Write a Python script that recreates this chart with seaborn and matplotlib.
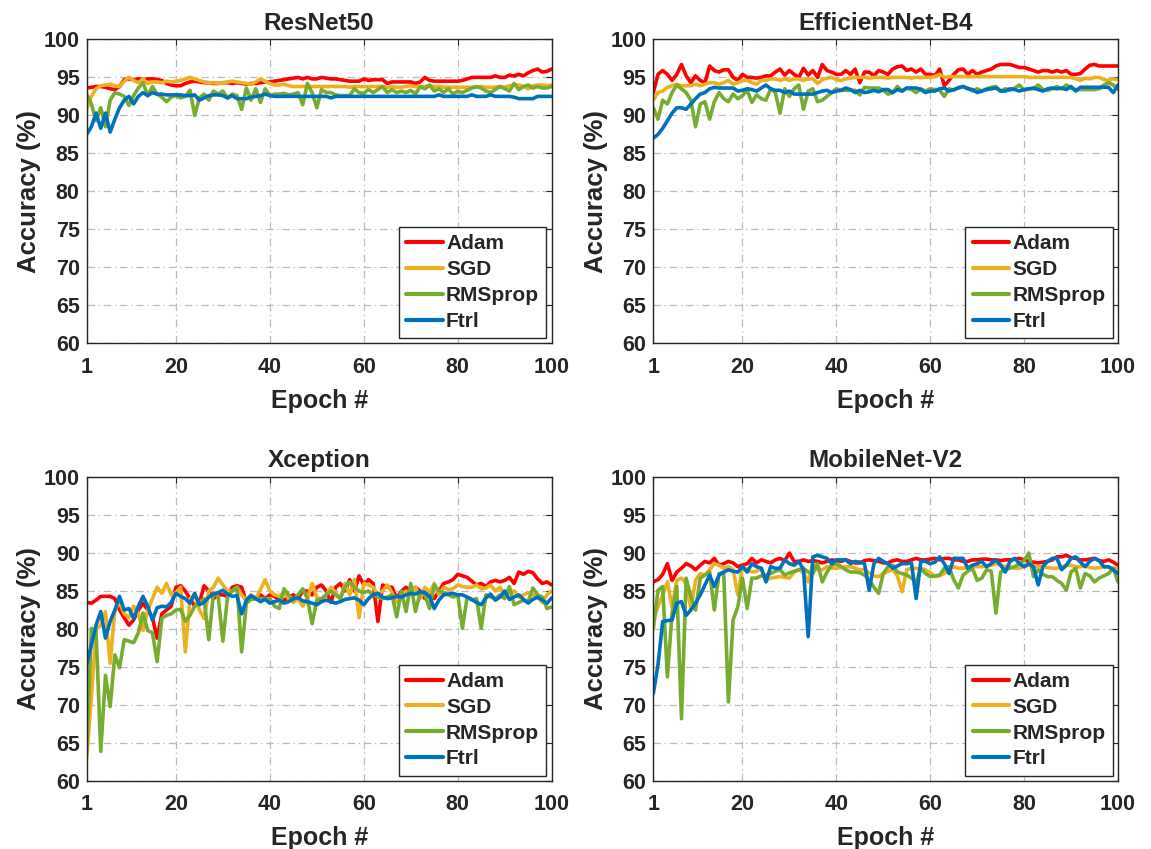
import numpy as np
import pandas as pd
import matplotlib
matplotlib.use("Agg")
import matplotlib.pyplot as plt
import seaborn as sns

epochs = list(range(1, 101))
optimizers = ["Adam", "SGD", "RMSprop", "Ftrl"]
colors = ["#FF0000", "#EDB120", "#77AC30", "#0072BD"]
titles = ["ResNet50", "EfficientNet-B4", "Xception", "MobileNet-V2"]
x_ticks = [1, 20, 40, 60, 80, 100]
y_ticks = [60, 65, 70, 75, 80, 85, 90, 95, 100]

# ---------------- ResNet50 ----------------
resnet_adam = [93.6, 93.7, 93.8, 93.8, 93.7, 93.5, 93.4, 93.8,
               94.7, 94.8, 94.7, 94.8, 94.7, 94.8, 94.8, 94.7, 94.6,
               94.2, 94.0, 93.9, 93.9,
               94.2, 94.4, 94.5, 94.4, 94.3, 94.3, 94.2, 94.2, 94.3, 94.3, 94.2, 94.3, 94.2, 94.1, 94.2, 94.2, 94.3, 94.4, 94.4,
               94.5, 94.6, 94.7, 94.8, 94.9, 95.0, 94.8, 95.0, 94.8, 94.8, 95.0, 94.9, 94.8, 94.8, 94.7,
               94.6, 94.5, 94.5, 94.5, 94.8, 94.6, 94.7, 94.7, 94.7, 94.2,
               94.4, 94.4, 94.4, 94.4, 94.4, 94.2, 94.4, 95.0, 94.6, 94.5, 94.5, 94.5, 94.5, 94.5,
               94.5, 94.6, 94.8, 95.0,
               95.0, 95.0, 95.0, 95.0, 95.2, 95.0, 95.0,
               95.3, 95.2, 95.4, 95.2, 95.6, 95.9, 96.1, 95.7, 95.8, 96.1]
resnet_sgd = [90.8, 92.5, 93.5, 93.9, 94.0, 94.1, 93.9, 93.8, 94.5, 95.0,
              94.6, 94.3, 94.8, 94.2, 94.4, 94.4, 94.3, 94.5, 94.4, 94.5,
              94.6, 94.8, 95.0, 94.8, 94.6, 94.4, 94.3, 94.3, 94.2, 94.3,
              94.4, 94.5, 94.4, 94.3, 94.2, 94.1, 94.4, 94.8, 94.5, 94.2,
              94.0, 94.0, 94.1, 93.9, 93.8, 93.8, 93.8, 93.8, 93.8, 93.8,
              93.8, 93.8, 93.8, 93.8, 93.8, 93.8, 93.7, 93.8, 93.8, 93.8,
              93.8, 93.8, 93.8, 93.8, 93.7, 93.8, 93.7, 93.7, 93.8, 93.9,
              93.8, 93.8, 93.8, 93.9, 93.8, 93.8, 93.7, 93.7, 93.7, 93.7,
              93.7, 93.7, 93.7, 93.7, 93.8, 93.7, 93.7, 93.7, 93.8, 93.7,
              93.9, 94.0, 94.0, 93.8, 93.5, 93.9, 94.0, 94.0, 93.9, 94.0]
resnet_rms = [92.8, 91.5, 89.3, 91.0, 88.5, 92.0, 93.0, 92.8, 92.5, 91.3,
              92.6, 93.6, 94.3, 92.6, 93.8, 92.8, 92.4, 91.8, 92.4, 92.6,
              92.3, 92.5, 93.3, 90.0, 92.3, 92.8, 92.0, 93.2, 92.8, 93.2,
              92.3, 92.8, 92.6, 90.8, 93.6, 92.0, 93.5, 91.7, 93.5, 92.6,
              92.8, 92.8, 92.9, 92.7, 92.8, 93.0, 91.4, 94.2, 93.0, 91.0,
              93.4, 93.0, 93.0, 92.7, 92.6, 92.6, 92.6, 93.5, 93.0, 92.9,
              93.4, 93.0, 93.4, 93.8, 93.0, 93.4, 93.0, 93.2, 93.0, 93.3,
              92.8, 93.8, 93.5, 94.0, 93.2, 93.5, 93.0, 93.5, 92.8, 93.2,
              93.0, 93.3, 93.6, 93.8, 93.6, 93.2, 93.0, 93.4, 93.8, 93.5,
              93.2, 94.2, 93.4, 93.8, 94.0, 93.6, 93.8, 93.6, 93.6, 93.8]
resnet_ftrl = [87.5, 88.5, 90.3, 88.3, 90.3, 87.8, 89.5, 91.0, 92.0, 92.5, 91.5, 92.5, 93.0, 92.6, 93.0,
               92.8, 92.8, 92.7, 92.7, 92.7, 92.7, 92.6, 92.6, 92.7, 92.0, 92.3, 92.6, 92.7, 92.7, 92.6,
               92.3, 92.6, 92.2, 92.2, 92.2, 92.4, 92.5, 92.6, 92.8, 92.6, 92.5, 92.5, 92.5, 92.5, 92.5,
               92.5, 92.5, 92.5, 92.5, 92.5, 92.5, 92.5, 92.3, 92.5, 92.5, 92.5, 92.5, 92.5, 92.5, 92.5,
               92.5, 92.5, 92.5, 92.5, 92.5, 92.5, 92.5, 92.5, 92.5, 92.5, 92.5, 92.5, 92.5, 92.5, 92.5,
               92.7, 92.5, 92.5, 92.5, 92.5, 92.5, 92.5, 92.7, 92.5, 92.5, 92.5, 92.7, 92.5, 92.5, 92.5,
               92.5, 92.4, 92.2, 92.2, 92.2, 92.2, 92.5, 92.5, 92.5, 92.5]

# ---------------- EfficientNet-B4 ----------------
effnet_adam = [93.0, 95.4, 95.9, 95.4, 94.6, 95.4, 96.7, 95.2, 94.3, 95.2,
               94.6, 94.3, 96.5, 95.9, 95.7, 96.0, 96.0, 95.0, 94.6, 95.4,
               95.0, 95.0, 94.9, 95.0, 95.2, 95.2, 95.7, 96.1, 95.3, 95.9,
               95.4, 95.0, 96.2, 95.3, 95.9, 95.0, 96.7, 95.9, 95.7, 95.4,
               95.4, 95.9, 95.4, 96.1, 94.3, 95.7, 95.7, 95.2, 95.9, 95.7,
               95.4, 96.1, 96.4, 96.5, 95.9, 96.1, 95.7, 96.1, 95.4, 95.4,
               95.2, 96.1, 93.9, 94.6, 95.4, 96.0, 96.1, 95.4, 95.9, 95.4,
               95.7, 95.9, 96.1, 96.5, 96.7, 96.7, 96.7, 96.5, 96.3, 96.3,
               96.1, 95.9, 95.7, 95.9, 95.9, 95.7, 95.9, 95.7, 95.9, 95.4,
               95.4, 95.5, 96.1, 96.6, 96.7, 96.5, 96.5, 96.5, 96.5, 96.5]
effnet_sgd = [92.0, 93.0, 93.2, 93.7, 93.9, 94.1, 93.9, 93.9, 93.9, 94.1,
              93.9, 94.1, 94.3, 94.3, 94.1, 94.3, 94.6, 94.1, 94.3, 94.6,
              94.6, 94.3, 94.1, 94.6, 94.6, 94.8, 94.8, 94.6, 94.8, 94.6,
              94.8, 94.8, 94.6, 94.8, 94.8, 94.2, 94.7, 94.9, 95.0, 94.7,
              94.6, 94.8, 94.9, 95.0, 95.0, 95.0, 94.9, 95.0, 95.0, 95.0,
              94.9, 95.0, 95.0, 95.0, 95.0, 94.9, 95.0, 95.0, 95.0, 95.0,
              95.1, 95.4, 95.0, 95.1, 95.1, 95.1, 95.1, 95.1, 95.1, 95.1,
              95.1, 95.1, 95.1, 95.1, 95.1, 95.1, 95.1, 95.1, 95.1, 95.1,
              95.0, 95.0, 95.0, 95.0, 95.0, 95.0, 95.0, 95.0, 95.0, 95.0,
              94.8, 94.6, 94.9, 94.8, 95.0, 95.0, 94.7, 94.6, 94.8, 94.7]
effnet_rms = [91.0, 89.5, 92.0, 91.5, 93.0, 94.0, 93.5, 93.0, 92.0, 88.5,
              91.5, 91.8, 89.5, 91.8, 93.0, 92.2, 91.8, 92.8, 92.2, 92.6,
              93.3, 91.7, 92.7, 92.2, 92.0, 93.5, 93.0, 90.3, 93.5, 92.5,
              93.5, 94.0, 90.8, 93.2, 93.5, 91.8, 92.0, 92.5, 93.0, 93.5,
              93.3, 93.3, 93.3, 93.3, 92.7, 93.7, 93.6, 93.6, 93.6, 93.3,
              92.8, 93.0, 93.8, 93.2, 93.6, 93.4, 93.0, 93.5, 93.2, 93.5,
              93.4, 93.3, 92.5, 93.5, 93.3, 93.7, 93.8, 93.6, 93.2, 93.5,
              93.2, 93.5, 93.7, 93.8, 93.2, 93.5, 93.3, 93.6, 94.0, 93.3,
              93.5, 93.5, 94.0, 93.4, 93.3, 93.5, 93.8, 93.5, 94.0, 93.6,
              93.4, 93.4, 93.4, 93.4, 93.4, 93.5, 94.0, 94.3, 94.0, 93.4]
effnet_ftrl = [87.0, 87.5, 88.3, 89.3, 90.3, 91.0, 91.0, 90.8, 91.5, 92.2,
               92.8, 93.0, 93.5, 93.7, 93.6, 93.6, 93.6, 93.6, 93.2, 93.3,
               93.5, 93.4, 93.2, 93.6, 94.0, 93.5, 93.3, 93.3, 93.0, 93.2,
               92.8, 92.8, 92.8, 92.8, 92.8, 93.0, 93.2, 93.3, 93.0, 93.2,
               93.3, 93.6, 93.4, 93.0, 93.3, 93.0, 93.1, 93.3, 93.1, 93.4,
               93.4, 93.0, 93.4, 93.2, 93.6, 93.6, 93.6, 93.4, 93.0, 93.2,
               93.2, 93.5, 93.6, 93.2, 93.4, 93.6, 93.8, 93.5, 93.4, 93.0,
               93.2, 93.4, 93.5, 93.6, 93.2, 93.2, 93.5, 93.4, 93.2, 93.4,
               93.5, 93.6, 93.4, 93.2, 93.5, 93.6, 93.5, 93.6, 93.4, 93.8,
               93.2, 93.7, 93.7, 93.7, 93.7, 93.7, 93.7, 93.7, 93.0, 94.0]

# ---------------- Xception ----------------
xcep_adam = [83.5, 83.4, 83.8, 84.3, 84.3, 84.3, 84.0, 82.5, 81.5, 80.5,
             81.2, 82.5, 83.4, 82.5, 81.5, 78.8, 82.0, 82.5, 83.0, 85.5,
             85.7, 85.0, 84.0, 83.0, 83.5, 85.7, 85.0, 84.0, 84.5, 84.5,
             84.3, 85.5, 85.7, 85.5, 83.5, 84.0, 84.0, 84.5, 84.0, 84.5,
             84.3, 83.8, 83.8, 84.2, 84.5, 84.0, 85.0, 85.0, 84.5, 85.5,
             85.8, 85.0, 83.5, 85.5, 86.0, 85.0, 86.5, 85.0, 87.0, 85.8,
             86.5, 86.0, 81.0, 85.8, 85.5, 85.5, 84.0, 85.0, 85.5, 85.0,
             85.5, 85.0, 84.0, 84.5, 84.0, 85.0, 86.0, 86.2, 86.5, 87.2,
             87.0, 86.8, 86.3, 85.8, 86.0, 85.6, 86.2, 86.4, 86.2, 86.4,
             86.8, 86.0, 87.5, 87.2, 87.6, 87.4, 86.6, 86.0, 86.2, 85.8]
xcep_sgd = [63.0, 71.0, 80.0, 80.5, 82.3, 75.5, 82.5, 83.5, 82.0, 81.5,
            83.0, 82.0, 79.8, 82.5, 84.0, 85.5, 84.7, 86.0, 84.5, 84.8,
            85.5, 77.0, 84.0, 84.5, 82.5, 81.4, 85.0, 85.5, 86.7, 85.8,
            85.0, 85.0, 85.5, 84.5, 83.8, 84.5, 84.0, 85.2, 86.5, 85.0,
            84.5, 84.3, 84.8, 84.0, 83.5, 84.0, 83.0, 84.0, 86.0, 84.2,
            83.8, 84.5, 85.5, 84.8, 84.0, 86.0, 84.5, 86.5, 81.5, 86.0,
            85.8, 85.5, 84.5, 85.0, 85.8, 84.8, 83.5, 84.5, 85.0, 84.5,
            85.5, 84.0, 85.5, 84.8, 86.0, 84.5, 85.5, 85.2, 85.3, 85.8,
            85.6, 85.5, 85.5, 85.8, 85.3, 85.4, 85.8, 85.0, 85.5, 84.5,
            84.8, 85.0, 84.2, 84.5, 84.8, 84.5, 84.2, 83.5, 84.5, 85.0]
xcep_rms = [63.7, 80.1, 79.7, 63.9, 73.9, 69.8, 76.6, 74.9, 78.6, 78.4,
            78.2, 79.5, 82.1, 79.8, 79.5, 75.7, 81.4, 81.8, 82.0, 82.5,
            82.6, 81.0, 81.8, 83.0, 83.5, 84.0, 78.6, 84.8, 84.3, 78.4,
            84.3, 85.0, 85.5, 77.0, 83.4, 83.9, 84.0, 84.0, 84.0, 84.0,
            83.0, 82.7, 85.3, 84.5, 83.8, 84.5, 85.3, 84.0, 80.7, 83.8,
            84.0, 84.5, 85.0, 84.5, 84.0, 85.6, 86.2, 85.5, 85.0, 84.8,
            85.0, 84.5, 84.2, 84.0, 84.2, 84.5, 81.6, 85.0, 82.3, 86.0,
            82.3, 84.8, 84.5, 82.7, 85.8, 85.0, 84.8, 84.5, 84.2, 84.5,
            80.1, 84.2, 83.8, 84.0, 80.1, 84.5, 84.2, 84.0, 84.5, 84.0,
            85.6, 83.2, 83.5, 83.8, 83.6, 85.4, 84.5, 84.2, 82.7, 82.9]
xcep_ftrl = [75.3, 77.9, 80.5, 82.3, 78.8, 81.0, 82.5, 84.3, 82.5, 82.7,
             81.4, 83.0, 84.3, 83.0, 81.2, 82.8, 83.0, 82.9, 83.5, 84.7,
             84.3, 84.0, 83.4, 84.7, 83.2, 83.5, 84.2, 84.6, 84.8, 85.1,
             84.6, 84.3, 84.4, 82.0, 83.8, 84.4, 84.0, 83.6, 83.9, 83.4,
             83.6, 83.8, 83.4, 83.6, 84.0, 84.1, 83.7, 83.6, 83.4, 83.2,
             83.6, 83.8, 83.6, 83.4, 83.6, 83.9, 84.0, 84.1, 83.8, 83.2,
             84.0, 84.5, 84.7, 84.2, 84.0, 84.1, 84.3, 84.2, 84.5, 84.7,
             84.6, 84.9, 84.8, 84.3, 82.7, 83.8, 84.5, 84.6, 84.7, 84.5,
             84.5, 84.2, 83.9, 83.5, 83.2, 84.1, 84.6, 83.8, 84.2, 85.0,
             83.9, 84.2, 84.5, 83.9, 83.4, 83.9, 84.2, 83.8, 83.4, 84.1]

# ---------------- MobileNet-V2 ----------------
mob_adam = [86.2, 86.5, 87.2, 88.6, 86.4, 87.5, 88.0, 88.6, 88.3, 87.8,
            88.4, 88.9, 88.7, 89.3, 88.4, 88.6, 88.9, 88.7, 88.2, 88.4,
            88.6, 89.3, 88.7, 89.1, 88.9, 88.7, 89.1, 89.3, 89.0, 90.0,
            88.9, 88.9, 89.1, 88.9, 89.0, 88.9, 88.7, 88.9, 89.1, 89.0,
            88.9, 89.1, 88.9, 88.7, 88.7, 89.0, 89.1, 89.0, 88.9, 88.7,
            88.7, 89.0, 89.1, 88.9, 88.9, 89.1, 89.3, 89.1, 89.1, 89.2,
            89.3, 89.1, 89.3, 89.3, 89.1, 89.1, 88.9, 88.9, 89.1, 89.1,
            89.2, 89.2, 89.1, 89.1, 89.0, 89.1, 89.1, 89.2, 89.3, 89.1,
            88.9, 88.8, 88.7, 88.8, 88.9, 89.1, 89.5, 89.5, 89.7, 89.4,
            89.3, 89.1, 89.1, 89.2, 89.3, 89.0, 88.9, 89.1, 88.8, 88.4]
mob_sgd = [81.2, 83.0, 84.5, 86.2, 82.9, 86.4, 86.7, 86.0, 82.7, 86.4,
           87.3, 87.1, 87.8, 88.6, 88.4, 88.0, 88.2, 87.8, 84.5, 88.2,
           87.8, 87.5, 87.6, 88.0, 86.4, 86.7, 86.8, 86.9, 86.8, 86.7,
           87.5, 87.8, 87.4, 86.2, 88.6, 87.8, 87.8, 88.2, 88.0, 88.0,
           88.1, 88.2, 88.2, 88.0, 87.8, 87.8, 87.4, 87.0, 86.9, 87.3,
           87.6, 87.8, 87.0, 84.9, 87.8, 88.0, 88.0, 87.9, 87.8, 87.4,
           86.9, 87.0, 87.3, 87.8, 88.2, 88.0, 88.0, 88.1, 88.2, 88.2,
           88.2, 88.3, 88.4, 88.6, 88.4, 88.2, 88.2, 88.0, 88.0, 88.2,
           88.4, 88.3, 88.2, 88.2, 88.1, 88.0, 88.0, 88.2, 88.4, 88.4,
           88.2, 88.2, 88.3, 88.1, 88.0, 88.1, 88.2, 88.1, 88.0, 88.0]
mob_rms = [80.1, 85.1, 85.6, 73.7, 82.1, 85.6, 68.2, 86.7, 84.3, 82.5,
           86.7, 87.1, 87.5, 82.5, 87.3, 87.4, 70.4, 81.2, 82.9, 86.7,
           82.7, 86.7, 86.7, 87.0, 87.1, 87.3, 87.6, 87.8, 87.1, 87.4,
           87.6, 87.8, 88.0, 87.5, 87.3, 88.6, 86.2, 87.5, 88.4, 88.6,
           88.2, 87.8, 87.5, 87.5, 87.4, 87.1, 86.5, 85.5, 84.7, 87.3,
           88.2, 88.4, 87.5, 87.3, 87.1, 86.7, 86.2, 88.0, 87.3, 86.9,
           87.0, 87.1, 88.0, 88.2, 86.5, 85.4, 87.1, 87.6, 88.0, 86.4,
           86.7, 87.8, 87.6, 82.1, 87.5, 87.8, 88.0, 88.2, 88.6, 89.0,
           90.0, 86.9, 87.8, 87.2, 86.9, 86.9, 86.4, 86.0, 85.1, 87.5,
           88.0, 85.4, 87.3, 87.0, 86.2, 86.7, 87.0, 87.3, 88.0, 86.2]
mob_ftrl = [71.5, 75.3, 81.0, 81.1, 81.2, 83.4, 83.6, 81.8, 82.5, 83.4,
            84.5, 85.8, 87.1, 85.6, 87.1, 87.5, 87.8, 87.6, 87.5, 88.2,
            87.5, 88.6, 88.2, 88.0, 86.2, 88.2, 88.0, 88.0, 89.1, 88.6,
            88.4, 88.9, 87.8, 79.0, 89.5, 89.7, 89.5, 89.3, 88.6, 89.1,
            89.1, 89.1, 88.6, 88.9, 88.8, 88.6, 85.1, 88.6, 89.3, 88.9,
            88.6, 88.0, 88.3, 88.6, 88.6, 88.7, 84.0, 88.9, 88.9, 88.6,
            88.8, 89.5, 88.6, 87.3, 89.3, 89.3, 89.3, 88.0, 88.4, 88.6,
            88.9, 88.2, 88.6, 89.1, 88.4, 87.5, 88.9, 89.3, 88.6, 88.2,
            88.6, 88.2, 85.8, 88.2, 88.9, 89.3, 89.3, 87.8, 88.4, 89.3,
            89.5, 88.8, 88.2, 88.9, 89.3, 89.0, 88.2, 88.2, 87.8, 87.3]

panels = [
    [resnet_adam, resnet_sgd, resnet_rms, resnet_ftrl],
    [effnet_adam, effnet_sgd, effnet_rms, effnet_ftrl],
    [xcep_adam, xcep_sgd, xcep_rms, xcep_ftrl],
    [mob_adam, mob_sgd, mob_rms, mob_ftrl],
]

sns.set_style("white")
plt.rcParams["font.family"] = ["Liberation Sans", "DejaVu Sans"]
plt.rcParams["font.weight"] = "bold"

fig = plt.figure(figsize=(11.51, 8.49), dpi=100)
fig.patch.set_facecolor("white")

positions = [
    [0.0753, 0.5956, 0.4040, 0.3580],
    [0.5676, 0.5956, 0.4037, 0.3580],
    [0.0753, 0.0801, 0.4040, 0.3580],
    [0.5676, 0.0801, 0.4037, 0.3580],
]

palette = dict(zip(optimizers, colors))

for pos, title, series in zip(positions, titles, panels):
    ax = fig.add_axes(pos)
    frames = []
    for name, vals in zip(optimizers, series):
        frames.append(pd.DataFrame({"Epoch": epochs, "Accuracy": vals, "Optimizer": name}))
    df = pd.concat(frames, ignore_index=True)
    sns.lineplot(data=df, x="Epoch", y="Accuracy", hue="Optimizer",
                 hue_order=optimizers, palette=palette, linewidth=2.6,
                 ax=ax, legend=True, errorbar=None)
    ax.set_xlim(1, 100)
    ax.set_ylim(60, 100)
    ax.set_xticks(x_ticks)
    ax.set_yticks(y_ticks)
    ax.grid(True, linestyle=(0, (6, 3, 1, 3)), color="#bcbcbc", linewidth=0.9)
    ax.set_axisbelow(True)
    for sp in ax.spines.values():
        sp.set_color("#262626")
        sp.set_linewidth(1.0)
        sp.set_visible(True)
    ax.tick_params(axis="both", direction="in", length=4, width=0.8,
                   labelsize=15.5, colors="#262626", top=True, right=True)
    ax.tick_params(axis="x", pad=9.5)
    ax.tick_params(axis="y", pad=5)
    for lab in ax.get_xticklabels() + ax.get_yticklabels():
        lab.set_fontweight("bold")
        lab.set_color("#262626")
    ax.set_title(title, fontsize=17.5, fontweight="bold", pad=7, color="#262626")
    ax.set_xlabel("Epoch #", fontsize=18, fontweight="bold", labelpad=8, color="#262626")
    ax.set_ylabel("Accuracy (%)", fontsize=18.5, fontweight="bold", labelpad=2, color="#262626")
    handles, labels = ax.get_legend_handles_labels()
    leg = ax.legend(handles, labels, loc="lower right", fontsize=15,
                    frameon=True, fancybox=False, edgecolor="#262626",
                    framealpha=1.0, borderaxespad=0.25, handlelength=1.75,
                    handletextpad=0.15, labelspacing=0.33, borderpad=0.35)
    leg.get_frame().set_linewidth(1.0)
    for t in leg.get_texts():
        t.set_fontweight("bold")
    for h in leg.get_lines():
        h.set_linewidth(3.0)

fig.savefig("out.png", dpi=100, facecolor="white")
